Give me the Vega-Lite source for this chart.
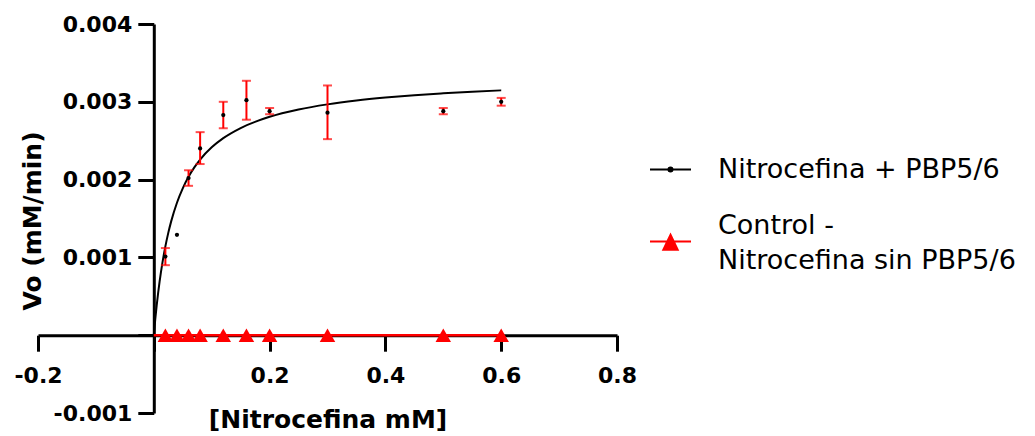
{
  "$schema": "https://vega.github.io/schema/vega-lite/v6.json",
  "width": 579,
  "height": 389,
  "autosize": {"type": "none"},
  "padding": {"left": 38, "top": 24, "right": 418, "bottom": 23},
  "background": "white",
  "config": {
    "view": {"stroke": null},
    "axis": {
      "grid": false,
      "domainColor": "black",
      "domainWidth": 3,
      "tickColor": "black",
      "tickWidth": 3,
      "tickSize": 16,
      "labelFont": "DejaVu Sans",
      "labelFontWeight": "bold",
      "labelFontSize": 22,
      "labelColor": "black",
      "labelFlush": false,
      "labelOverlap": false,
      "titleFont": "DejaVu Sans",
      "titleFontWeight": "bold",
      "titleFontSize": 25,
      "titleColor": "black"
    }
  },
  "datasets": {
    "curve": [
      {"x": 0, "v": 0},
      {"x": 0.0025, "v": 0.000203},
      {"x": 0.005, "v": 0.000383},
      {"x": 0.0075, "v": 0.000544},
      {"x": 0.01, "v": 0.000688},
      {"x": 0.015, "v": 0.000936},
      {"x": 0.02, "v": 0.001141},
      {"x": 0.025, "v": 0.001315},
      {"x": 0.03, "v": 0.001463},
      {"x": 0.04, "v": 0.001703},
      {"x": 0.05, "v": 0.001888},
      {"x": 0.06, "v": 0.002036},
      {"x": 0.07, "v": 0.002157},
      {"x": 0.08, "v": 0.002258},
      {"x": 0.1, "v": 0.002415},
      {"x": 0.12, "v": 0.002533},
      {"x": 0.15, "v": 0.002663},
      {"x": 0.2, "v": 0.002807},
      {"x": 0.25, "v": 0.002901},
      {"x": 0.3, "v": 0.002967},
      {"x": 0.35, "v": 0.003016},
      {"x": 0.4, "v": 0.003054},
      {"x": 0.45, "v": 0.003085},
      {"x": 0.5, "v": 0.003109},
      {"x": 0.55, "v": 0.00313},
      {"x": 0.6, "v": 0.003147}
    ],
    "points": [
      {"x": 0.02, "v": 0.00101, "lo": 0.0009, "hi": 0.00112},
      {"x": 0.04, "v": 0.00129, "lo": null, "hi": null},
      {"x": 0.06, "v": 0.00202, "lo": 0.00192, "hi": 0.00212},
      {"x": 0.08, "v": 0.0024, "lo": 0.0022, "hi": 0.00261},
      {"x": 0.12, "v": 0.00283, "lo": 0.00266, "hi": 0.003},
      {"x": 0.16, "v": 0.00302, "lo": 0.00277, "hi": 0.00327},
      {"x": 0.2, "v": 0.00288, "lo": 0.00284, "hi": 0.00292},
      {"x": 0.3, "v": 0.00286, "lo": 0.00252, "hi": 0.00321},
      {"x": 0.5, "v": 0.00288, "lo": 0.00284, "hi": 0.00292},
      {"x": 0.6, "v": 0.003, "lo": 0.00295, "hi": 0.00305}
    ],
    "control": [
      {"x": 0.02, "v": 0},
      {"x": 0.04, "v": 0},
      {"x": 0.06, "v": 0},
      {"x": 0.08, "v": 0},
      {"x": 0.12, "v": 0},
      {"x": 0.16, "v": 0},
      {"x": 0.2, "v": 0},
      {"x": 0.3, "v": 0},
      {"x": 0.5, "v": 0},
      {"x": 0.6, "v": 0}
    ],
    "controlFit": [
      {"x": 0, "v": 0},
      {"x": 0.6, "v": 0}
    ],
    "legend": [
      {"series": "Nitrocefina + PBP5/6", "x": 0, "v": 0},
      {"series": "Control - Nitrocefina sin PBP5/6", "x": 0, "v": 0}
    ]
  },
  "encoding": {
    "x": {
      "field": "x",
      "type": "quantitative",
      "title": "[Nitrocefina mM]",
      "scale": {"domain": [-0.2, 0.8], "nice": false, "zero": false},
      "axis": {
        "values": [-0.2, 0, 0.2, 0.4, 0.6, 0.8],
        "offset": -77.8,
        "labelPadding": 14,
        "labelExpr": "datum.value == 0 ? '' : replace(format(datum.value, '.1f'), '\u2212', '-')",
        "titleBaseline": "alphabetic",
        "titleY": 92
      }
    },
    "y": {
      "field": "v",
      "type": "quantitative",
      "title": "Vo (mM/min)",
      "scale": {"domain": [-0.001, 0.004], "nice": false, "zero": false},
      "axis": {
        "values": [-0.001, 0, 0.001, 0.002, 0.003, 0.004],
        "offset": -115.8,
        "labelPadding": 6,
        "labelExpr": "datum.value == 0 ? '' : replace(format(datum.value, '.3f'), '\u2212', '-')",
        "titleBaseline": "alphabetic",
        "titleAngle": 270,
        "titleX": -113.8,
        "titleY": 196.5
      }
    }
  },
  "layer": [
    {
      "data": {"name": "curve"},
      "mark": {"type": "line", "color": "black", "strokeWidth": 2, "interpolate": "monotone"}
    },
    {
      "data": {"name": "controlFit"},
      "mark": {"type": "line", "color": "red", "strokeWidth": 2.5}
    },
    {
      "data": {"name": "points"},
      "transform": [{"filter": "isValid(datum.lo)"}],
      "mark": {"type": "errorbar", "color": "red", "thickness": 2, "ticks": {"size": 9}},
      "encoding": {
        "y": {"field": "lo", "type": "quantitative", "title": "Vo (mM/min)", "scale": {"domain": [-0.001, 0.004], "nice": false, "zero": false}},
        "y2": {"field": "hi"}
      }
    },
    {
      "data": {"name": "points"},
      "mark": {"type": "circle", "color": "black", "size": 18, "opacity": 1}
    },
    {
      "data": {"name": "control"},
      "mark": {"type": "point", "shape": "triangle-up", "filled": true, "color": "red", "size": 240, "opacity": 1}
    },
    {
      "data": {"name": "legend"},
      "transform": [{"filter": "false"}],
      "mark": {"type": "point", "filled": true, "strokeWidth": 2, "opacity": 1},
      "encoding": {
        "fill": {
          "field": "series", "type": "nominal",
          "scale": {"domain": ["Nitrocefina + PBP5/6", "Control - Nitrocefina sin PBP5/6"], "range": ["black", "red"]},
          "legend": {
            "title": null, "orient": "none", "legendX": 611, "legendY": 124, "padding": 0,
            "symbolSize": 1681, "symbolStrokeWidth": 2, "symbolOpacity": 1,
            "labelFont": "DejaVu Sans", "labelFontSize": 27, "labelColor": "black",
            "labelOffset": 26, "labelLimit": 600, "rowPadding": 28,
            "labelExpr": "datum.label == 'Control - Nitrocefina sin PBP5/6' ? ['Control -', 'Nitrocefina sin PBP5/6'] : datum.label",
            "encode": {
              "symbols": {"update": {"opacity": {"value": 1}}},
              "labels": {
                "enter": {"lineHeight": {"value": 35}},
                "update": {
                  "lineHeight": {"value": 35},
                  "dy": {"signal": "datum.value == 'Control - Nitrocefina sin PBP5/6' ? -16 : 0"}
                }
              }
            }
          }
        },
        "stroke": {
          "field": "series", "type": "nominal",
          "scale": {"domain": ["Nitrocefina + PBP5/6", "Control - Nitrocefina sin PBP5/6"], "range": ["black", "red"]}
        },
        "shape": {
          "field": "series", "type": "nominal",
          "scale": {"domain": ["Nitrocefina + PBP5/6", "Control - Nitrocefina sin PBP5/6"], "range": ["M-1,0H1M-0.1,0A0.1,0.1,0,1,0,0.1,0A0.1,0.1,0,1,0,-0.1,0Z", "M-1,0H1M0,-0.33L0.35,0.4L-0.35,0.4Z"]}
        }
      }
    }
  ]
}
